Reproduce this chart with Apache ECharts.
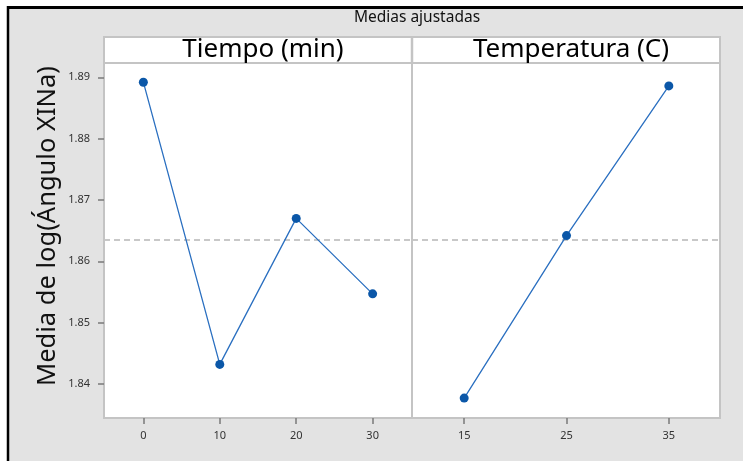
<!DOCTYPE html>
<html>
<head>
<meta charset="utf-8">
<script src="https://cdn.jsdelivr.net/npm/echarts@6/dist/echarts.min.js"></script>
<style>
html,body{margin:0;padding:0;background:#ffffff;}
#chart{width:743px;height:461px;}
</style>
</head>
<body>
<div id="chart"></div>
<script>
// ---- data ----
const tiempoCats = [0, 10, 20, 30];
const tiempoVals = [1.8892, 1.8432, 1.8670, 1.8547];
const tempCats = [15, 25, 35];
const tempVals = [1.8377, 1.8642, 1.8886];
const meanValue = 1.8635;
const yTicks = [1.84, 1.85, 1.86, 1.87, 1.88, 1.89];
const tiempoTicks = [0, 10, 20, 30];
const tempTicks = [15, 25, 35];
const panelTitles = ['Tiempo (min)', 'Temperatura (C)'];
const mainTitle = 'Medias ajustadas';
const yTitle = 'Media de log(Ángulo XINa)';

const FONT = 'Noto Sans';
const borderCol = '#c4c4c4';
const tickCol = '#7a7a7a';
const lineCol = '#2a6fc0';
const ptCol = '#0b57a8';

const chart = echarts.init(document.getElementById('chart'), null, {renderer: 'canvas'});

const yMin = 1.83446, yMax = 1.89233;

function xAxisCfg(idx, min, max, ticks) {
  return {
    type: 'value', gridIndex: idx, min: min, max: max, position: 'bottom', z: 10,
    axisLine: {show: true, onZero: false, lineStyle: {color: borderCol, width: 2}},
    splitLine: {show: false},
    axisTick: {show: true, inside: false, length: 6, customValues: ticks, lineStyle: {color: tickCol, width: 1.5}},
    axisLabel: {customValues: ticks, margin: 12, color: '#333', fontSize: 11, fontFamily: FONT}
  };
}
function yAxisCfg(idx, showLabels) {
  return {
    type: 'value', gridIndex: idx, min: yMin, max: yMax, position: 'left', z: 10,
    axisLine: {show: true, onZero: false, lineStyle: {color: borderCol, width: 2}},
    splitLine: {show: false},
    axisTick: {show: showLabels, inside: false, length: 6, customValues: yTicks, lineStyle: {color: tickCol, width: 1.5}},
    axisLabel: {show: showLabels, customValues: yTicks, margin: 14, color: '#333', fontSize: 11, fontFamily: FONT,
      formatter: v => v.toFixed(2)}
  };
}
function seriesCfg(idx, xs, ys) {
  return {
    type: 'line', xAxisIndex: idx, yAxisIndex: idx, z: 12,
    data: xs.map((x, i) => [x, ys[i]]),
    symbol: 'circle', symbolSize: 9,
    lineStyle: {color: lineCol, width: 1.3},
    itemStyle: {color: ptCol},
    animation: false,
    markLine: {
      silent: true, symbol: 'none', label: {show: false}, precision: 5,
      lineStyle: {color: '#c8c8c8', type: [6, 4], width: 2},
      data: [{yAxis: meanValue}]
    }
  };
}

const option = {
  backgroundColor: '#ffffff',
  animation: false,
  title: [
    {text: mainTitle, left: 412, top: 5, textAlign: 'center',
     textStyle: {fontFamily: FONT, fontSize: 15.5, fontWeight: 'normal', color: '#111'}},
    {text: panelTitles[0], left: 258, top: 32, textAlign: 'center',
     textStyle: {fontFamily: FONT, fontSize: 26, fontWeight: 'normal', color: '#000'}},
    {text: panelTitles[1], left: 566, top: 32, textAlign: 'center',
     textStyle: {fontFamily: FONT, fontSize: 26, fontWeight: 'normal', color: '#000'}}
  ],
  graphic: [
    {type: 'rect', z: -100, shape: {x: 8, y: 8, width: 735, height: 453}, style: {fill: '#e3e3e3'}},
    {type: 'line', z: -50, shape: {x1: 8, y1: 7.5, x2: 743, y2: 7.5}, style: {stroke: '#000', lineWidth: 3}},
    {type: 'line', z: -50, shape: {x1: 8, y1: 6, x2: 8, y2: 461}, style: {stroke: '#000', lineWidth: 2.5}},
    {type: 'rect', z: -40, shape: {x: 104, y: 37, width: 616, height: 26},
     style: {fill: '#ffffff', stroke: borderCol, lineWidth: 2}},
    {type: 'line', z: -39, shape: {x1: 412, y1: 37, x2: 412, y2: 63}, style: {stroke: borderCol, lineWidth: 2.5}},
    {type: 'text', z: 10, x: 48, y: 226, rotation: Math.PI / 2,
     style: {text: yTitle, font: 'normal 25.5px "Noto Sans"', fill: '#111', align: 'center', verticalAlign: 'middle'}}
  ],
  grid: [
    {left: 104, top: 63, width: 308, height: 355, show: true, backgroundColor: '#fff', borderColor: borderCol, borderWidth: 2},
    {left: 412, top: 63, width: 308, height: 355, show: true, backgroundColor: '#fff', borderColor: borderCol, borderWidth: 2}
  ],
  xAxis: [
    xAxisCfg(0, -5.15, 35.15, tiempoTicks),
    xAxisCfg(1, 9.9, 40.0, tempTicks)
  ],
  yAxis: [yAxisCfg(0, true), yAxisCfg(1, false)],
  series: [
    seriesCfg(0, tiempoCats, tiempoVals),
    seriesCfg(1, tempCats, tempVals)
  ]
};
chart.setOption(option);
</script>
</body>
</html>
